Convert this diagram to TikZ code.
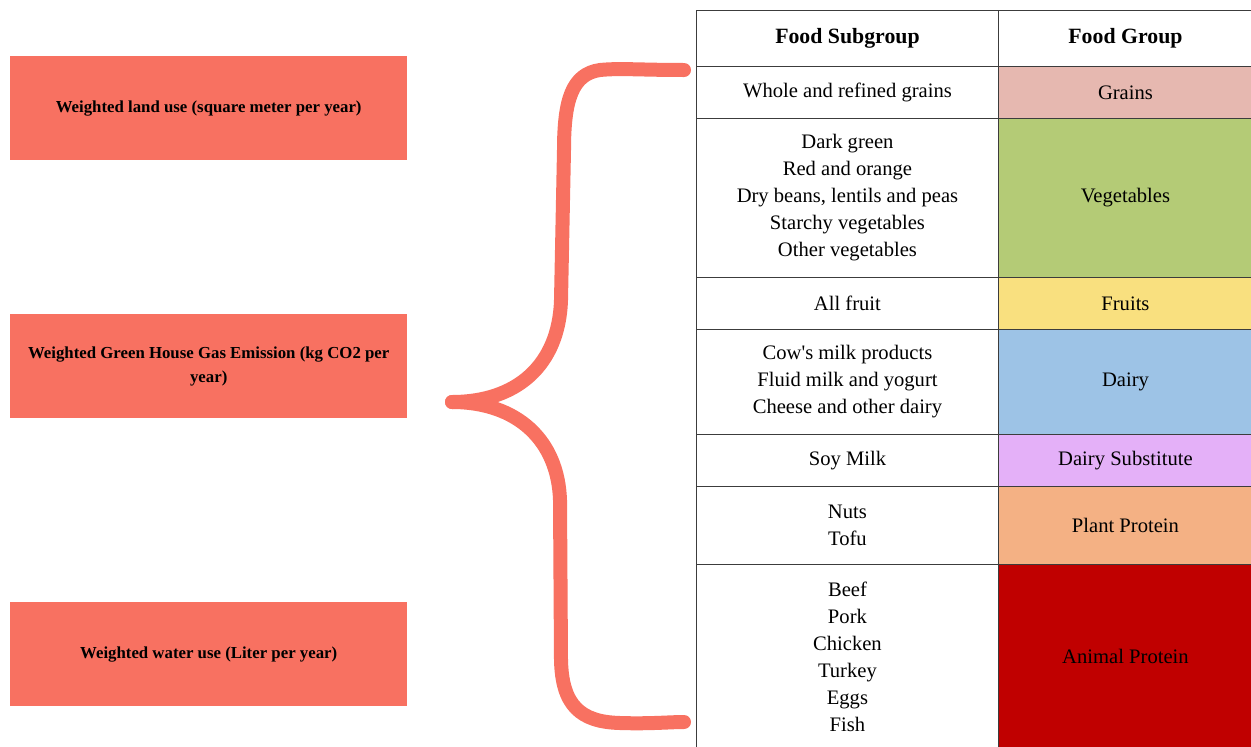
\documentclass[tikz,border=0pt]{standalone}
\usepackage{fontspec}
\setmainfont{Liberation Serif}
\definecolor{salmon}{RGB}{248,113,97}
\definecolor{gridline}{RGB}{60,60,60}
\definecolor{cgrain}{RGB}{230,184,176}
\definecolor{cveg}{RGB}{180,203,118}
\definecolor{cfruit}{RGB}{249,224,127}
\definecolor{cdairy}{RGB}{157,195,230}
\definecolor{cdsub}{RGB}{228,176,248}
\definecolor{cplant}{RGB}{244,177,132}
\definecolor{canimal}{RGB}{192,0,0}
\begin{document}
\begin{tikzpicture}[x=1pt,y=-1pt,
  metric/.style={fill=salmon, draw=none, anchor=north west, minimum width=397pt,
    minimum height=104pt, inner sep=0pt, align=center,
    font=\fontsize{16.8}{24}\selectfont\bfseries},
  cell/.style={draw=gridline, line width=0.9pt, anchor=north west, inner sep=0pt,
    align=center, font=\fontsize{20.6}{27}\selectfont},
  subcell/.style={cell, minimum width=302pt},
  groupcell/.style={cell, minimum width=254pt},
  headcell/.style={font=\fontsize{21.8}{26}\selectfont\bfseries},
  bracestroke/.style={draw=salmon, line width=14pt, line cap=round, line join=round}
]
\useasboundingbox (0,0) rectangle (1251,747);

% impact metrics on the left
\node[metric] (land) at (10,56) {Weighted land use (square meter per year)};
\node[metric] (ghg) at (10,314) {Weighted Green House Gas Emission (kg CO2 per\\year)};
\node[metric] (water) at (10,602) {Weighted water use (Liter per year)};

% large curly brace
\draw[bracestroke] (684,70) .. controls (640,70) and (620,68) .. (600,70)
  .. controls (572,74) and (564,100) .. (564,150)
  -- (561,300) .. controls (559,365) and (517,402) .. (452,402);
\draw[bracestroke] (452,402) .. controls (517,402) and (558,440) .. (560,500)
  -- (561,660) .. controls (562,705) and (580,722) .. (620,723)
  .. controls (650,724) and (670,722) .. (684,722);

% table: header row
\node[subcell, headcell, minimum height=56pt] (hsub) at (696,10) {Food Subgroup};
\node[groupcell, headcell, minimum height=56pt] (hgrp) at (998,10) {Food Group};

% grains
\node[subcell, minimum height=52pt] (sgrain) at (696,66) {Whole and refined grains};
\node[groupcell, fill=cgrain, minimum height=52pt] (ggrain) at (998,66) {Grains};

% vegetables
\node[subcell, minimum height=159pt] (sveg) at (696,118)
  {Dark green\\Red and orange\\Dry beans, lentils and peas\\Starchy vegetables\\Other vegetables};
\node[groupcell, fill=cveg, minimum height=159pt] (gveg) at (998,118) {Vegetables};

% fruits
\node[subcell, minimum height=52pt] (sfruit) at (696,277) {All fruit};
\node[groupcell, fill=cfruit, minimum height=52pt] (gfruit) at (998,277) {Fruits};

% dairy
\node[subcell, minimum height=105pt] (sdairy) at (696,329)
  {Cow\textquotesingle s milk products\\Fluid milk and yogurt\\Cheese and other dairy};
\node[groupcell, fill=cdairy, minimum height=105pt] (gdairy) at (998,329) {Dairy};

% dairy substitute
\node[subcell, minimum height=52pt] (sdsub) at (696,434) {Soy Milk};
\node[groupcell, fill=cdsub, minimum height=52pt] (gdsub) at (998,434) {Dairy Substitute};

% plant protein
\node[subcell, minimum height=78pt] (splant) at (696,486) {Nuts\\Tofu};
\node[groupcell, fill=cplant, minimum height=78pt] (gplant) at (998,486) {Plant Protein};

% animal protein
\node[subcell, minimum height=184pt] (sanimal) at (696,564)
  {Beef\\Pork\\Chicken\\Turkey\\Eggs\\Fish};
\node[groupcell, fill=canimal, minimum height=184pt] (ganimal) at (998,564) {Animal Protein};
\end{tikzpicture}
\end{document}
